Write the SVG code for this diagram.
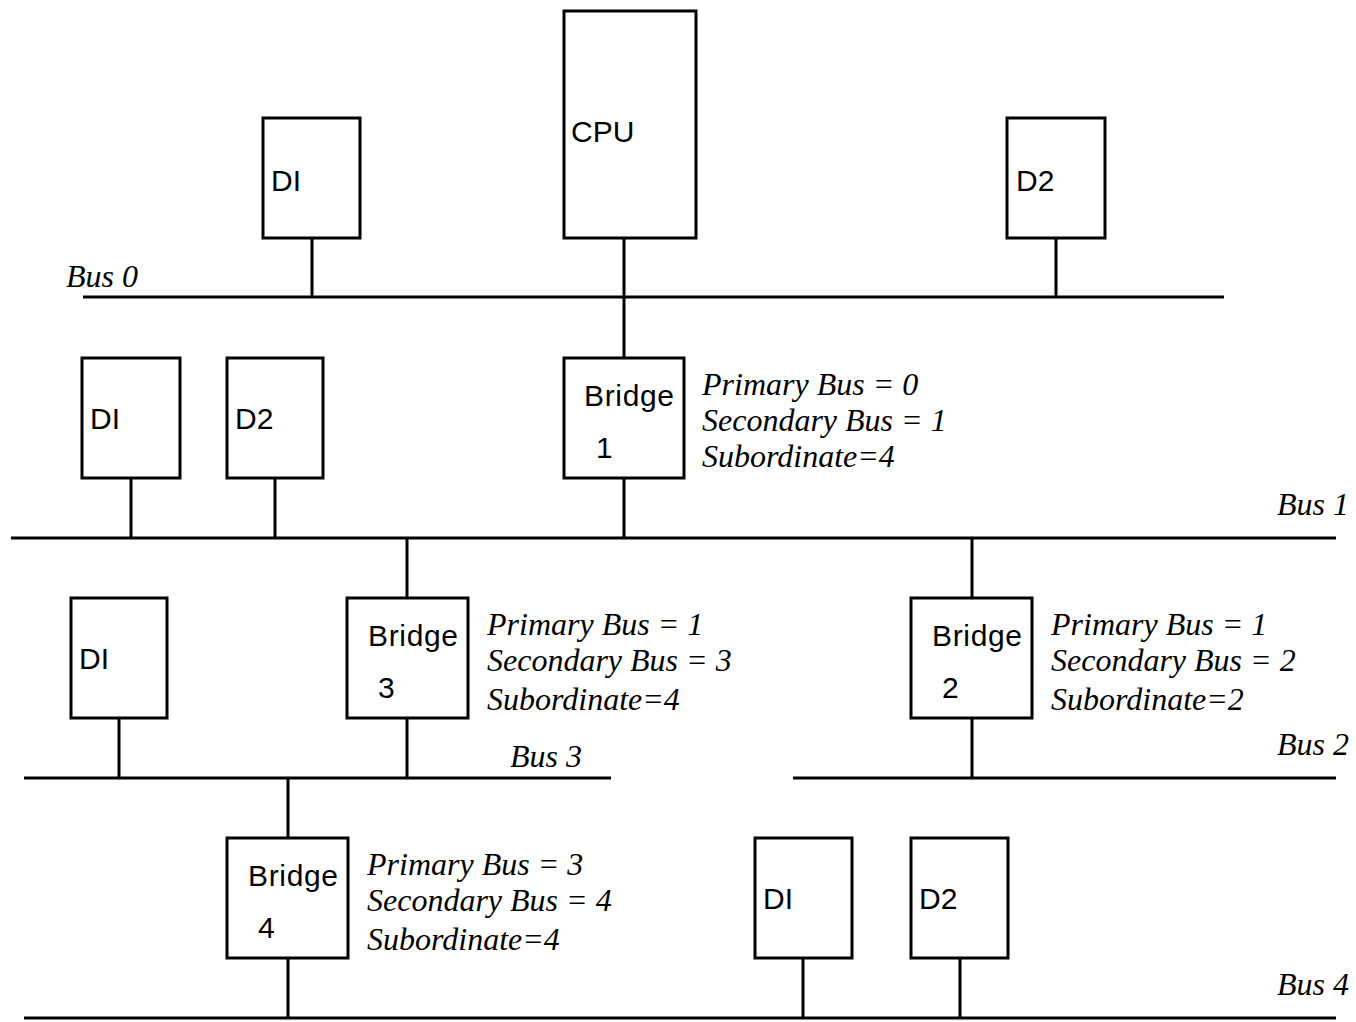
<svg xmlns="http://www.w3.org/2000/svg" width="1356" height="1022" viewBox="0 0 1356 1022">
<style>
.box{fill:#fff;stroke:#000;stroke-width:3}
.ln{stroke:#000;stroke-width:3;fill:none}
.s{font-family:"Liberation Sans",Arial,sans-serif;font-size:30px;fill:#000}
.i{font-family:"Liberation Serif","Times New Roman",serif;font-style:italic;font-size:32px;fill:#000}
</style>
<rect width="1356" height="1022" fill="#fff"/>
<g id="connectors">
<line class="ln" x1="83" y1="297" x2="1224" y2="297"/>
<line class="ln" x1="11" y1="538" x2="1336" y2="538"/>
<line class="ln" x1="24" y1="778" x2="611" y2="778"/>
<line class="ln" x1="793" y1="778" x2="1336" y2="778"/>
<line class="ln" x1="24" y1="1018" x2="1336" y2="1018"/>
<line class="ln" x1="312" y1="238" x2="312" y2="297"/>
<line class="ln" x1="624" y1="238" x2="624" y2="358"/>
<line class="ln" x1="1056" y1="238" x2="1056" y2="297"/>
<line class="ln" x1="131" y1="478" x2="131" y2="538"/>
<line class="ln" x1="275" y1="478" x2="275" y2="538"/>
<line class="ln" x1="624" y1="478" x2="624" y2="538"/>
<line class="ln" x1="407" y1="538" x2="407" y2="598"/>
<line class="ln" x1="407" y1="718" x2="407" y2="778"/>
<line class="ln" x1="972" y1="538" x2="972" y2="598"/>
<line class="ln" x1="972" y1="718" x2="972" y2="778"/>
<line class="ln" x1="119" y1="718" x2="119" y2="778"/>
<line class="ln" x1="288" y1="778" x2="288" y2="838"/>
<line class="ln" x1="288" y1="958" x2="288" y2="1018"/>
<line class="ln" x1="803" y1="958" x2="803" y2="1018"/>
<line class="ln" x1="960" y1="958" x2="960" y2="1018"/>
</g>
<g id="bus-labels">
<text class="i" x="66" y="287">Bus 0</text>
<text class="i" x="1349" y="515" text-anchor="end">Bus 1</text>
<text class="i" x="1349" y="755" text-anchor="end">Bus 2</text>
<text class="i" x="510" y="767">Bus 3</text>
<text class="i" x="1349" y="995" text-anchor="end">Bus 4</text>
</g>
<g id="cpu"><rect class="box" x="564" y="11" width="132" height="227"/><text class="s" x="571" y="142">CPU</text></g>
<g id="d1-bus0"><rect class="box" x="263" y="118" width="97" height="120"/><text class="s" x="271" y="191">DI</text></g>
<g id="d2-bus0"><rect class="box" x="1007" y="118" width="98" height="120"/><text class="s" x="1016" y="191">D2</text></g>
<g id="bridge1"><rect class="box" x="564" y="358" width="120" height="120"/><text class="s" x="584" y="406" textLength="90">Bridge</text><text class="s" x="596" y="458">1</text>
<text class="i" x="702" y="395">Primary Bus = 0</text><text class="i" x="702" y="431">Secondary Bus = 1</text><text class="i" x="702" y="467">Subordinate=4</text></g>
<g id="d1-bus1"><rect class="box" x="82" y="358" width="98" height="120"/><text class="s" x="90" y="429">DI</text></g>
<g id="d2-bus1"><rect class="box" x="227" y="358" width="96" height="120"/><text class="s" x="235" y="429">D2</text></g>
<g id="bridge3"><rect class="box" x="347" y="598" width="121" height="120"/><text class="s" x="368" y="646" textLength="90">Bridge</text><text class="s" x="378" y="698">3</text>
<text class="i" x="487" y="635">Primary Bus = 1</text><text class="i" x="487" y="671">Secondary Bus = 3</text><text class="i" x="487" y="710">Subordinate=4</text></g>
<g id="bridge2"><rect class="box" x="911" y="598" width="121" height="120"/><text class="s" x="932" y="646" textLength="90">Bridge</text><text class="s" x="942" y="698">2</text>
<text class="i" x="1051" y="635">Primary Bus = 1</text><text class="i" x="1051" y="671">Secondary Bus = 2</text><text class="i" x="1051" y="710">Subordinate=2</text></g>
<g id="d1-bus3"><rect class="box" x="71" y="598" width="96" height="120"/><text class="s" x="79" y="669">DI</text></g>
<g id="bridge4"><rect class="box" x="227" y="838" width="121" height="120"/><text class="s" x="248" y="886" textLength="90">Bridge</text><text class="s" x="258" y="938">4</text>
<text class="i" x="367" y="875">Primary Bus = 3</text><text class="i" x="367" y="911">Secondary Bus = 4</text><text class="i" x="367" y="950">Subordinate=4</text></g>
<g id="d1-bus4"><rect class="box" x="755" y="838" width="97" height="120"/><text class="s" x="763" y="909">DI</text></g>
<g id="d2-bus4"><rect class="box" x="911" y="838" width="97" height="120"/><text class="s" x="919" y="909">D2</text></g>
</svg>
